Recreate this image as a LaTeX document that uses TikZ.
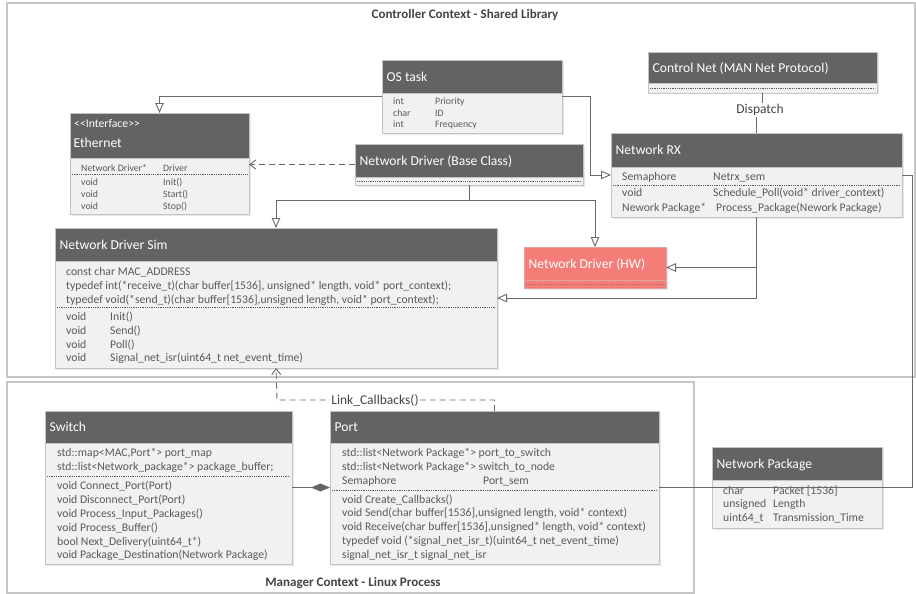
\documentclass[tikz,border=0pt]{standalone}
\usepackage{fontspec}
\setmainfont{Carlito}
\usetikzlibrary{arrows.meta,shadows}

\definecolor{headgray}{HTML}{636363}
\definecolor{bodygray}{HTML}{F1F1F1}
\definecolor{edgegray}{HTML}{C3C3C3}
\definecolor{rowgray}{HTML}{5A5A5A}
\definecolor{linegray}{HTML}{6A6A6A}
\definecolor{framegray}{HTML}{C6C6C6}
\definecolor{hwred}{HTML}{F47D78}
\definecolor{hwedge}{HTML}{E2A4A1}
\definecolor{hwdash}{HTML}{B56A66}
\definecolor{labelgray}{HTML}{444444}

\tikzset{
  clsbody/.style={draw=edgegray, fill=bodygray, line width=0.8pt, inner sep=0pt, outer sep=0pt,
    drop shadow={shadow xshift=1.5pt, shadow yshift=-1.5pt, opacity=0.18}},
  clshead/.style={draw=edgegray, fill=headgray, line width=0.8pt, inner sep=0pt, outer sep=0pt},
  hwbody/.style={draw=hwedge, fill=hwred, line width=0.8pt, inner sep=0pt, outer sep=0pt,
    drop shadow={shadow xshift=1.5pt, shadow yshift=-1.5pt, opacity=0.18}},
  hwhead/.style={draw=hwedge, fill=hwred, line width=0.8pt, inner sep=0pt, outer sep=0pt},
  headtext/.style={anchor=base west, inner sep=0pt, text=white, font=\fontsize{13.6}{16}\selectfont},
  row/.style={anchor=base west, inner sep=0pt, text=rowgray, font=\fontsize{11.7}{14}\selectfont},
  srow/.style={row, font=\fontsize{9.8}{12}\selectfont},
  sepline/.style={draw=rowgray, line width=0.6pt, dash pattern=on 1pt off 0.8pt},
  framebox/.style={draw=framegray, line width=1.2pt, inner sep=0pt, outer sep=0pt},
  frametitle/.style={anchor=base, inner sep=0pt, text=labelgray, font=\fontsize{13}{15}\selectfont\bfseries},
  conn/.style={draw=linegray, line width=0.9pt},
  gen/.style={conn, -{Triangle[open, length=10pt, width=8.5pt]}},
  real/.style={conn, dash pattern=on 6pt off 4pt, -{Straight Barb[length=6pt, width=9pt]}},
  comp/.style={conn, -{Diamond[length=19pt, width=8pt, fill=headgray]}},
  linklabel/.style={fill=white, inner sep=1.5pt, text=labelgray, font=\fontsize{13.5}{16}\selectfont},
}

% #1 name, #2 left, #3 top, #4 right, #5 header bottom, #6 bottom, #7 style family, #8 title
\newcommand\umlclass[8]{%
  \node[#7body, minimum width={#4-#2}, minimum height={#6-#3}] (#1) at ({(#2+#4)/2},{(#3+#6)/2}) {};
  \node[#7head, minimum width={#4-#2}, minimum height={#5-#3}] (#1-h) at ({(#2+#4)/2},{(#3+#5)/2}) {};
  \node[headtext] (#1-t) at ({#2+4.5},{(#3+#5)/2+4.6}) {#8};
}
% dotted compartment separator: #2 left, #3 right, #4 y
\newcommand\compsep[4][sepline]{\draw[#1] (#2,#4) -- (#3,#4);}

\begin{document}
\begin{tikzpicture}[x=1pt, y=-1pt]
\useasboundingbox (0,0) rectangle (916,594);
\fill[white] (0,0) rectangle (916,594);

% ---------- contexts ----------
\node[framebox, minimum width=908, minimum height=374] (ctrl) at (461,190) {};
\node[frametitle] (ctrl-t) at (465,18.3) {Controller Context - Shared Library};
\node[framebox, minimum width=687, minimum height=211] (mgr) at (350.5,487.5) {};
\node[frametitle] (mgr-t) at (353,586.3) {Manager Context - Linux Process};

% ---------- classes ----------
\umlclass{os}{382}{60}{562}{93}{133}{cls}{OS task}
\node[srow] (os-1a) at (393,104.7) {int};
\node[srow] (os-1b) at (435,104.7) {Priority};
\node[srow] (os-2a) at (393,116.2) {char};
\node[srow] (os-2b) at (435,116.2) {ID};
\node[srow] (os-3a) at (393,127.7) {int};
\node[srow] (os-3b) at (435,127.7) {Frequency};

\umlclass{eth}{70}{113}{249}{158}{214}{cls}{}
\node[headtext, font=\fontsize{11.7}{14}\selectfont] (eth-s) at (74,128) {<{}<Interface>{}>};
\node[headtext] (eth-t2) at (73.5,147.6) {Ethernet};
\node[srow] (eth-1a) at (81,171.2) {Network Driver*};
\node[srow] (eth-1b) at (163,171.2) {Driver};
\compsep{72}{247}{174.5}
\node[srow] (eth-2a) at (81,185.2) {void};
\node[srow] (eth-2b) at (163,185.2) {Init()};
\node[srow] (eth-3a) at (81,197.2) {void};
\node[srow] (eth-3b) at (163,197.2) {Start()};
\node[srow] (eth-4a) at (81,209.2) {void};
\node[srow] (eth-4b) at (163,209.2) {Stop()};

\umlclass{base}{355}{144}{583}{177}{185}{cls}{Network Driver (Base Class)}
\compsep{357}{581}{181}

\umlclass{cn}{648}{52}{877}{83}{93}{cls}{Control Net (MAN Net Protocol)}
\compsep{650}{875}{88}

\umlclass{rx}{611}{133}{902}{167}{217}{cls}{Network RX}
\node[row] (rx-1a) at (622,180.8) {Semaphore};
\node[row] (rx-1b) at (713,180.8) {Netrx\_sem};
\compsep{613}{900}{185}
\node[row] (rx-2a) at (622,196.8) {void};
\node[row] (rx-2b) at (713,196.8) {Schedule\_Poll(void* driver\_context)};
\node[row] (rx-3a) at (622,211.8) {Nework Package*};
\node[row] (rx-3b) at (716,211.8) {Process\_Package(Nework Package)};

\umlclass{nds}{55}{228}{497}{261}{368}{cls}{Network Driver Sim}
\node[row] (nds-1) at (66,275.8) {const char MAC\_ADDRESS};
\node[row] (nds-2) at (66,289.8) {typedef int(*receive\_t)(char buffer[1536], unsigned* length, void* port\_context);};
\node[row] (nds-3) at (66,303.8) {typedef void(*send\_t)(char buffer[1536],unsigned length, void* port\_context);};
\compsep{57}{495}{307}
\node[row] (nds-4a) at (66,320.8) {void};
\node[row] (nds-4b) at (110,320.8) {Init()};
\node[row] (nds-5a) at (66,334.5) {void};
\node[row] (nds-5b) at (110,334.5) {Send()};
\node[row] (nds-6a) at (66,348.2) {void};
\node[row] (nds-6b) at (110,348.2) {Poll()};
\node[row] (nds-7a) at (66,361.8) {void};
\node[row] (nds-7b) at (110,361.8) {Signal\_net\_isr(uint64\_t net\_event\_time)};

\umlclass{hw}{524}{247}{666}{280}{288}{hw}{Network Driver (HW)}
\compsep[sepline, draw=hwdash]{526}{664}{284}

\umlclass{sw}{45}{411}{292}{443}{564}{cls}{Switch}
\node[row] (sw-1) at (57,456.8) {std::map<MAC,Port*> port\_map};
\node[row] (sw-2) at (57,470.8) {std::list<Network\_package*> package\_buffer;};
\compsep{47}{290}{476}
\node[row] (sw-3) at (57,489.8) {void Connect\_Port(Port)};
\node[row] (sw-4) at (57,503.6) {void Disconnect\_Port(Port)};
\node[row] (sw-5) at (57,517.4) {void Process\_Input\_Packages()};
\node[row] (sw-6) at (57,531.2) {void Process\_Buffer()};
\node[row] (sw-7) at (57,545) {bool Next\_Delivery(uint64\_t*)};
\node[row] (sw-8) at (57,558.8) {void Package\_Destination(Network Package)};

\umlclass{port}{330}{411}{659}{443}{564}{cls}{Port}
\node[row] (port-1) at (342,456.8) {std::list<Network Package*> port\_to\_switch};
\node[row] (port-2) at (342,470.8) {std::list<Network Package*> switch\_to\_node};
\node[row] (port-3a) at (342,484.8) {Semaphore};
\node[row] (port-3b) at (483,484.8) {Port\_sem};
\compsep{332}{657}{490}
\node[row] (port-4) at (342,503.8) {void Create\_Callbacks()};
\node[row] (port-5) at (342,516.8) {void Send(char buffer[1536],unsigned length, void* context)};
\node[row] (port-6) at (342,530.8) {void Receive(char buffer[1536],unsigned* length, void* context)};
\node[row] (port-7) at (342,544.8) {typedef void (*signal\_net\_isr\_t)(uint64\_t net\_event\_time)};
\node[row] (port-8) at (342,558.8) {signal\_net\_isr\_t signal\_net\_isr};

\umlclass{np}{712}{447}{882}{480}{528}{cls}{Network Package}
\node[row] (np-1a) at (723,494.8) {char};
\node[row] (np-1b) at (773,494.8) {Packet [1536]};
\node[row] (np-2a) at (723,507.8) {unsigned};
\node[row] (np-2b) at (773,507.8) {Length};
\node[row] (np-3a) at (723,521.8) {uint64\_t};
\node[row] (np-3b) at (773,521.8) {Transmission\_Time};

% ---------- routing points ----------
\coordinate (osbend) at (590,0);
\coordinate (basebus) at (0,200);
\coordinate (rxbend) at (912,0);
\coordinate (linkbend) at (277,400);

% ---------- connectors ----------
\draw[gen] (os.west) -| (eth.north);
\draw[gen] (os.east) -| (osbend |- rx.west) -- (rx.west);
\draw[real] (base.west) -- (eth.east |- base.west);
\draw[gen] (base.south) -- (base.south |- basebus) -| (nds.north);
\draw[gen] (base.south |- basebus) -| (hw.north);
\draw[gen] (rx.south) |- (hw.east);
\draw[gen] (rx.south) |- (nds.east);

\node[linklabel, fill=none] (dispatch) at (760,110) {Dispatch};
\draw[conn] (cn.south) -- (cn.south |- dispatch.north);
\draw[conn] (rx.north) -- (rx.north |- dispatch.south);

\draw[conn] (rx.east) -| (rxbend |- np.east) -- (np.east);
\draw[conn] (port.east) -- (np.east);
\draw[comp] (sw.east) -- (port.west);

\draw[real] (port.north) |- (linkbend) -- (nds.south);
\node[linklabel] (link) at (375,400) {Link\_Callbacks()};

\end{tikzpicture}
\end{document}
